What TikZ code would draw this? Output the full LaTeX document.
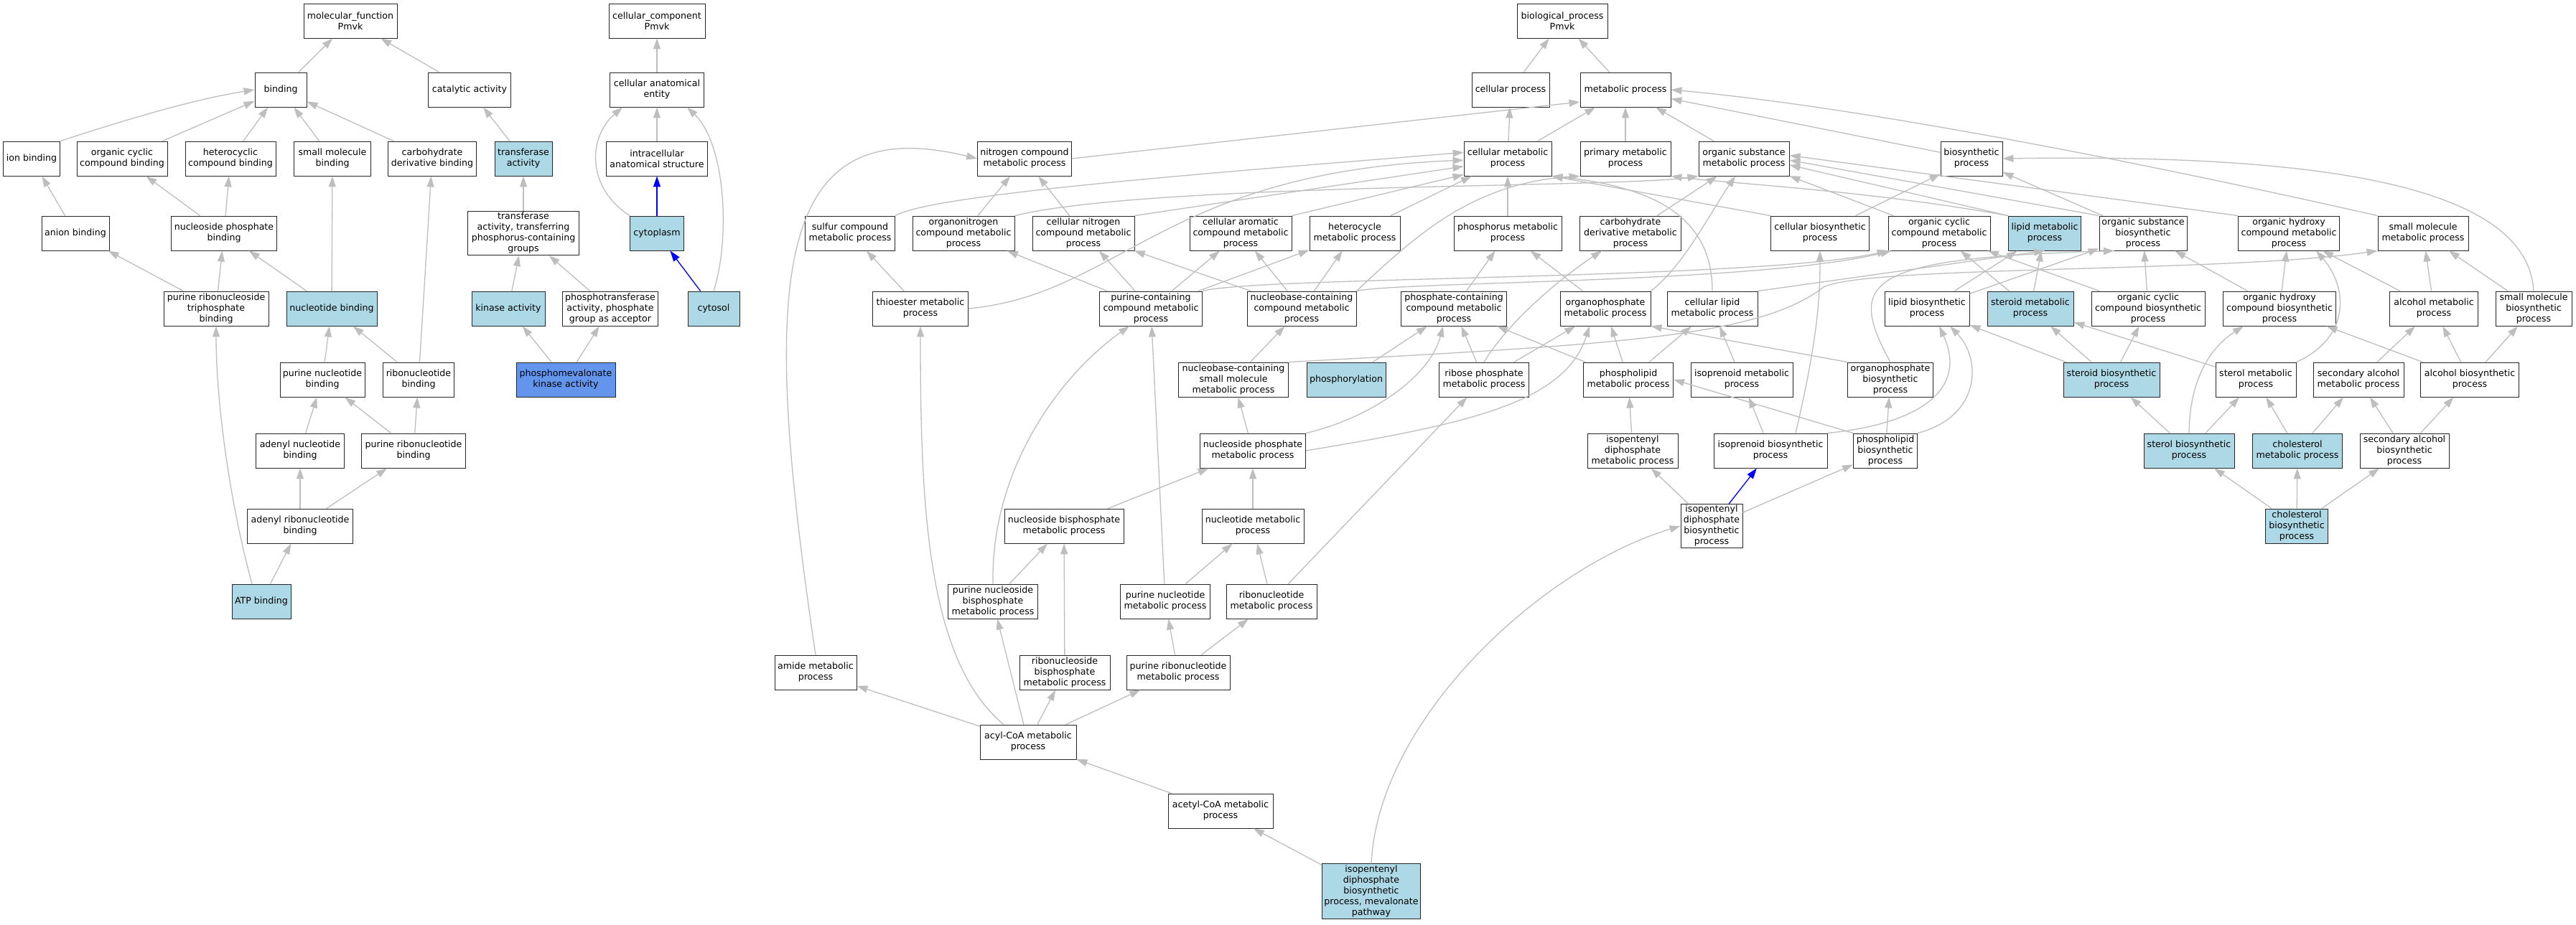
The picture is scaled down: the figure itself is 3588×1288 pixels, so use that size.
\documentclass[tikz,border=0pt]{standalone}
\usepackage{fontspec}
\setmainfont{DejaVu Sans}
\usepackage{tikz}
\usetikzlibrary{arrows.meta}
\definecolor{edgegray}{RGB}{190,190,190}
\definecolor{hitblue}{RGB}{173,216,230}
\definecolor{seedblue}{RGB}{100,149,237}
\newcommand{\gofont}{\fontsize{12.6}{15}\selectfont}

\begin{document}
\begin{tikzpicture}[x=1pt, y=-1pt,
  term/.style={draw=black!85, fill=white, line width=0.9pt, rectangle, align=center, inner xsep=1pt, inner ysep=2pt, minimum height=48pt, font=\gofont},
  hit/.style={term, fill=hitblue},
  seed/.style={term, fill=seedblue},
  isa/.style={draw=edgegray, line width=1.3pt, -{Triangle[length=15pt,width=10pt]}},
  partof/.style={isa, draw=blue}]
\fill[white] (0,0) rectangle (3588,1288);
\useasboundingbox (0,0) rectangle (3588,1288);

% molecular function
\node[term, minimum width=130] (mf) at (488,29) {molecular\_function\\Pmvk};
\node[term, minimum width=72] (bind) at (391,125) {binding};
\node[term, minimum width=115] (cat) at (654,125) {catalytic activity};
\node[term, minimum width=79] (ionb) at (44,221) {ion binding};
\node[term, minimum width=126] (occb) at (170,221) {organic cyclic\\compound binding};
\node[term, minimum width=126] (hcb) at (321,221) {heterocyclic\\compound binding};
\node[term, minimum width=107] (smbind) at (463,221) {small molecule\\binding};
\node[term, minimum width=123] (cdb) at (602,221) {carbohydrate\\derivative binding};
\node[hit, minimum width=80] (tfa) at (729,221) {transferase\\activity};
\node[term, minimum width=94] (anb) at (105,325) {anion binding};
\node[term, minimum width=147] (npb) at (312,325) {nucleoside phosphate\\binding};
\node[term, minimum width=155] (tpc) at (729,325) {transferase\\activity, transferring\\phosphorus-containing\\groups};
\node[term, minimum width=146] (prtb) at (301,430) {purine ribonucleoside\\triphosphate\\binding};
\node[hit, minimum width=126] (ntb) at (462,430) {nucleotide binding};
\node[hit, minimum width=102] (kin) at (708,430) {kinase activity};
\node[term, minimum width=133] (ptg) at (850,430) {phosphotransferase\\activity, phosphate\\group as acceptor};
\node[term, minimum width=118] (pnb) at (449,529) {purine nucleotide\\binding};
\node[term, minimum width=99] (rnb) at (583,529) {ribonucleotide\\binding};
\node[seed, minimum width=138] (pmk) at (788,529) {phosphomevalonate\\kinase activity};
\node[term, minimum width=123] (adnb) at (418,628) {adenyl nucleotide\\binding};
\node[term, minimum width=145] (prnb) at (576,628) {purine ribonucleotide\\binding};
\node[term, minimum width=147] (arnb) at (418,733) {adenyl ribonucleotide\\binding};
\node[hit, minimum width=82] (atp) at (364,838) {ATP binding};

% cellular component
\node[term, minimum width=134] (cc) at (915,29) {cellular\_component\\Pmvk};
\node[term, minimum width=131] (cae) at (915,125) {cellular anatomical\\entity};
\node[term, minimum width=141] (ias) at (915,221) {intracellular\\anatomical structure};
\node[hit, minimum width=75] (cyp) at (915,325) {cytoplasm};
\node[hit, minimum width=72] (cys) at (994,430) {cytosol};

% biological process
\node[term, minimum width=126] (bp) at (2176,29) {biological\_process\\Pmvk};
\node[term, minimum width=108] (cp) at (2104,125) {cellular process};
\node[term, minimum width=126] (mp) at (2264,125) {metabolic process};
\node[term, minimum width=131] (ncm) at (1427,221) {nitrogen compound\\metabolic process};
\node[term, minimum width=122] (cm) at (2100,221) {cellular metabolic\\process};
\node[term, minimum width=126] (pm) at (2264,221) {primary metabolic\\process};
\node[term, minimum width=126] (osm) at (2429,221) {organic substance\\metabolic process};
\node[term, minimum width=86] (bs) at (2746,221) {biosynthetic\\process};
\node[term, minimum width=125] (scm) at (1184,325) {sulfur compound\\metabolic process};
\node[term, minimum width=142] (onm) at (1342,325) {organonitrogen\\compound metabolic\\process};
\node[term, minimum width=142] (cnm) at (1509,325) {cellular nitrogen\\compound metabolic\\process};
\node[term, minimum width=142] (cam) at (1728,325) {cellular aromatic\\compound metabolic\\process};
\node[term, minimum width=126] (hcm) at (1887,325) {heterocycle\\metabolic process};
\node[term, minimum width=150] (phm) at (2100,325) {phosphorus metabolic\\process};
\node[term, minimum width=141] (cdm) at (2271,325) {carbohydrate\\derivative metabolic\\process};
\node[term, minimum width=137] (cbs) at (2535,325) {cellular biosynthetic\\process};
\node[term, minimum width=142] (ocm) at (2701,325) {organic cyclic\\compound metabolic\\process};
\node[hit, minimum width=101] (lm) at (2848,325) {lipid metabolic\\process};
\node[term, minimum width=122] (osb) at (2985,325) {organic substance\\biosynthetic\\process};
\node[term, minimum width=141] (ohm) at (3188,325) {organic hydroxy\\compound metabolic\\process};
\node[term, minimum width=126] (smm) at (3375,325) {small molecule\\metabolic process};
\node[term, minimum width=133] (tem) at (1282,430) {thioester metabolic\\process};
\node[term, minimum width=143] (pcc) at (1603,430) {purine-containing\\compound metabolic\\process};
\node[term, minimum width=152] (nbc) at (1813,430) {nucleobase-containing\\compound metabolic\\process};
\node[term, minimum width=147] (phc) at (2025,430) {phosphate-containing\\compound metabolic\\process};
\node[term, minimum width=126] (opm) at (2236,430) {organophosphate\\metabolic process};
\node[term, minimum width=126] (clm) at (2385,430) {cellular lipid\\metabolic process};
\node[term, minimum width=118] (lbs) at (2684,430) {lipid biosynthetic\\process};
\node[hit, minimum width=120] (stm) at (2828,430) {steroid metabolic\\process};
\node[term, minimum width=158] (ocb) at (2992,430) {organic cyclic\\compound biosynthetic\\process};
\node[term, minimum width=157] (ohb) at (3175,430) {organic hydroxy\\compound biosynthetic\\process};
\node[term, minimum width=123] (alm) at (3390,430) {alcohol metabolic\\process};
\node[term, minimum width=106] (smb) at (3529,430) {small molecule\\biosynthetic\\process};
\node[term, minimum width=153] (nbsm) at (1718,529) {nucleobase-containing\\small molecule\\metabolic process};
\node[hit, minimum width=110] (phos) at (1875,529) {phosphorylation};
\node[term, minimum width=125] (rpm) at (2067,529) {ribose phosphate\\metabolic process};
\node[term, minimum width=125] (plm) at (2268,529) {phospholipid\\metabolic process};
\node[term, minimum width=142] (ipm) at (2426,529) {isoprenoid metabolic\\process};
\node[term, minimum width=119] (opb) at (2633,529) {organophosphate\\biosynthetic\\process};
\node[hit, minimum width=134] (stb) at (2941,529) {steroid biosynthetic\\process};
\node[term, minimum width=112] (slm) at (3142,529) {sterol metabolic\\process};
\node[term, minimum width=126] (sam) at (3285,529) {secondary alcohol\\metabolic process};
\node[term, minimum width=137] (alb) at (3440,529) {alcohol biosynthetic\\process};
\node[term, minimum width=147] (npm) at (1745,628) {nucleoside phosphate\\metabolic process};
\node[term, minimum width=126] (idm) at (2274,628) {isopentenyl\\diphosphate\\metabolic process};
\node[term, minimum width=158] (ipb) at (2466,628) {isoprenoid biosynthetic\\process};
\node[term, minimum width=89] (plb) at (2626,628) {phospholipid\\biosynthetic\\process};
\node[hit, minimum width=126] (slb) at (3049,628) {sterol biosynthetic\\process};
\node[hit, minimum width=125] (chm) at (3200,628) {cholesterol\\metabolic process};
\node[term, minimum width=124] (sab) at (3349,628) {secondary alcohol\\biosynthetic\\process};
\node[term, minimum width=166] (nbm) at (1482,733) {nucleoside bisphosphate\\metabolic process};
\node[term, minimum width=142] (ntm) at (1745,733) {nucleotide metabolic\\process};
\node[term, minimum width=86] (idb) at (2384,733) {isopentenyl\\diphosphate\\biosynthetic\\process};
\node[hit, minimum width=87] (chb) at (3199,733) {cholesterol\\biosynthetic\\process};
\node[term, minimum width=125] (pnbm) at (1383,838) {purine nucleoside\\bisphosphate\\metabolic process};
\node[term, minimum width=125] (pntm) at (1623,838) {purine nucleotide\\metabolic process};
\node[term, minimum width=126] (rnm) at (1771,838) {ribonucleotide\\metabolic process};
\node[term, minimum width=114] (amm) at (1136,937) {amide metabolic\\process};
\node[term, minimum width=126] (rnbm) at (1483,937) {ribonucleoside\\bisphosphate\\metabolic process};
\node[term, minimum width=144] (prnm) at (1641,937) {purine ribonucleotide\\metabolic process};
\node[term, minimum width=134] (acm) at (1432,1034) {acyl-CoA metabolic\\process};
\node[term, minimum width=146] (acet) at (1700,1130) {acetyl-CoA metabolic\\process};
\node[hit, minimum width=137] (mev) at (1910,1242) {isopentenyl\\diphosphate\\biosynthetic\\process, mevalonate\\pathway};

\foreach \a/\b in {bind/mf, cat/mf, occb/bind, hcb/bind, smbind/bind, cdb/bind, tfa/cat, anb/ionb,
  npb/occb, npb/hcb, tpc/tfa, prtb/anb, prtb/npb, ntb/npb, ntb/smbind, kin/tpc, ptg/tpc, pnb/ntb,
  rnb/ntb, rnb/cdb, pmk/kin, pmk/ptg, adnb/pnb, prnb/pnb, prnb/rnb, arnb/adnb, arnb/prnb, atp/arnb,
  cae/cc, ias/cae}
  \draw[isa] (\a) -- (\b);

\foreach \a/\b in {cp/bp, mp/bp, cm/cp, cm/mp, pm/mp, osm/mp, bs/mp, onm/ncm, cnm/ncm, hcm/cm,
  phm/cm, cdm/osm, ocm/osm, cbs/bs, osb/bs, lbs/lm, stm/lm, stm/ocm, ocb/ocm, ocb/osb, ohb/ohm,
  ohb/osb, alm/ohm, alm/smm, smb/smm, tem/scm, pcc/onm, pcc/cnm, pcc/cam, pcc/hcm, nbc/cnm, nbc/cam,
  nbc/hcm, phc/phm, opm/phm, nbsm/nbc, phos/phc, rpm/phc, rpm/opm, plm/phc, plm/opm, plm/clm,
  ipm/clm, plb/opb, stb/stm, stb/lbs, stb/ocb, slm/stm, sam/alm, alb/alm, alb/ohb, alb/smb,
  npm/nbsm, idm/plm, ipb/ipm, slb/stb, slb/slm, chm/slm, chm/sam, sab/sam, sab/alb, nbm/npm,
  ntm/npm, idb/idm, idb/plb, chb/slb, chb/chm, chb/sab, pnbm/nbm, pntm/ntm, rnm/ntm, rnm/rpm,
  rnbm/nbm, prnm/pntm, prnm/rnm, acm/amm, acm/pnbm, acm/rnbm, acm/prnm, acet/acm, mev/acet,
  pntm/pcc, lbs/osb}
  \draw[isa] (\a) -- (\b);

\draw[partof] (cyp) -- (ias);
\draw[partof] (cys) -- (cyp);
\draw[partof] (idb) -- (ipb);

\draw[isa] (ionb.north east) .. controls (150,175) and (260,140) .. (bind.west);
\draw[isa] ([xshift=-13pt]atp.north) .. controls (320,700) and (301,560) .. (prtb.south);
\draw[isa] (cyp.north west) .. controls (815,260) and (820,190) .. ([xshift=18pt]cae.south west);
\draw[isa] (cys.north) .. controls (1018,330) and (1010,200) .. ([xshift=-24pt]cae.south east);

\draw[isa] (ncm.east) -- (mp.195);
\draw[isa] (smm.north west) .. controls (3000,230) and (2600,150) .. (mp.east);
\draw[isa] (smb.north) .. controls (3520,250) and (3200,215) .. (bs.east);
\draw[isa] (scm.north east) .. controls (1300,270) and (1700,240) .. (cm.172);
\draw[isa] (tem.east) .. controls (1560,410) and (1620,240) .. (cm.182);
\draw[isa] (cnm.north east) -- (cm.190);
\draw[isa] (cam.north east) -- (cm.200);
\draw[isa] (cbs.north west) -- (cm.south east);
\draw[isa] (clm.north) .. controls (2385,300) and (2300,260) .. (cm.south east);
\draw[isa] (onm.north east) .. controls (1600,255) and (2250,262) .. (osm.south west);
\draw[isa] (nbc.north east) .. controls (1970,330) and (2050,255) .. (pm.south west);
\draw[isa] (lm.north west) .. controls (2600,265) and (2400,255) .. (pm.south east);
\draw[isa] (lm.north west) -- (osm.-8);
\draw[isa] (osb.north west) -- (osm.-2);
\draw[isa] (ohm.north west) -- (osm.4);
\draw[isa] (opm.north east) .. controls (2345,370) and (2380,300) .. ([xshift=-12pt]osm.south);
\draw[isa] (pcc.north east) .. controls (1750,385) and (2450,390) .. (ocm.south west);
\draw[isa] (nbc.north east) .. controls (1950,392) and (2450,395) .. ([xshift=5pt]ocm.south west);
\draw[isa] (nbsm.north east) .. controls (2250,480) and (2450,470) .. (2540,400) .. controls (2600,370) and (3100,380) .. (smm.south west);
\draw[isa] (clm.north east) -- (lm.south);
\draw[isa] (ipb.north east) .. controls (2680,590) and (2740,540) .. ([xshift=17pt]lbs.south);
\draw[isa] (plb.north east) .. controls (2760,580) and (2760,500) .. ([xshift=32pt]lbs.south);
\draw[isa] ([xshift=35pt]ipb.north) .. controls (2530,480) and (2535,420) .. (cbs.south);
\draw[isa] (plb.north west) -- (plm.east);
\draw[isa] (opb.north west) -- (opm.south east);
\draw[isa] (opb.north) .. controls (2570,390) and (2600,360) .. ([xshift=-40pt]osb.south);
\draw[isa] (slm.north east) .. controls (3275,470) and (3270,400) .. ([xshift=38pt]ohm.south);
\draw[isa] (slb.north) .. controls (3050,520) and (3085,480) .. ([xshift=-50pt]ohb.south);
\draw[isa] (npm.north east) .. controls (1900,585) and (1990,530) .. ([xshift=-15pt]phc.south);
\draw[isa] (npm.east) .. controls (2050,590) and (2180,560) .. ([xshift=-22pt]opm.south);
\draw[isa] (rpm.north) .. controls (2100,450) and (2170,390) .. ([xshift=-40pt]cdm.south);
\draw[isa] (pnbm.north) .. controls (1380,650) and (1480,520) .. ([xshift=-30pt]pcc.south);
\draw[isa] ([xshift=-34pt]acm.north) .. controls (1290,920) and (1282,700) .. (tem.south);
\draw[isa] (amm.north) .. controls (1060,400) and (1070,150) .. (ncm.west);
\draw[isa] (mev.north) .. controls (1920,1000) and (2150,790) .. (idb.west);
\end{tikzpicture}
\end{document}
